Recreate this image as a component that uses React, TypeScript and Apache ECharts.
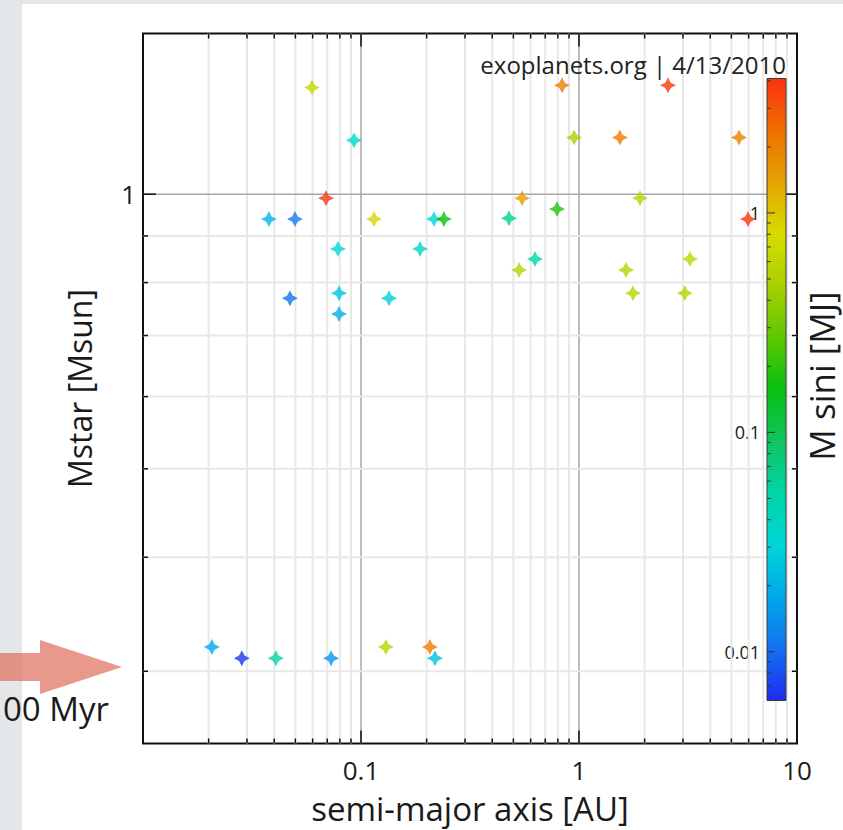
import React, { useEffect, useRef } from 'react';
import * as echarts from 'echarts';

// Planets: semi-major axis [AU], host star mass [Msun], planet M sini [MJ]
const semiMajorAxis = [
  0.0596, 0.0929, 0.836, 2.56, 0.949, 1.54, 5.42, 0.0691, 0.0378, 0.0498,
  0.1147, 0.216, 0.24, 0.477, 0.548, 0.793, 1.905, 5.96, 0.0784, 0.1865,
  0.628, 0.531, 1.643, 3.23, 0.0472, 0.0793, 0.0793, 0.1344, 1.769, 3.06,
  0.0207, 0.0284, 0.0407, 0.0729, 0.13, 0.207, 0.2184,
];
const starMass = [
  1.309, 1.146, 1.316, 1.316, 1.154, 1.154, 1.154, 0.99, 0.939, 0.939,
  0.939, 0.939, 0.939, 0.941, 0.99, 0.963, 0.99, 0.939, 0.871, 0.871,
  0.849, 0.826, 0.826, 0.849, 0.769, 0.779, 0.739, 0.769, 0.779, 0.779,
  0.319, 0.31, 0.31, 0.31, 0.319, 0.319, 0.31,
];
const planetMass = [
  0.66, 0.035, 2.1, 3.9, 0.48, 2.1, 2.0, 3.9, 0.021, 0.0115,
  0.85, 0.031, 0.157, 0.063, 1.44, 0.18, 0.52, 4.0, 0.033, 0.04,
  0.051, 0.54, 0.56, 0.62, 0.0108, 0.024, 0.02, 0.029, 0.55, 0.52,
  0.018, 0.0065, 0.055, 0.0145, 0.55, 2.1, 0.024,
];

// Axis ranges and ticks
const xRange = [0.01, 10];
const yRange = [0.25, 1.5];
const massRange = [0.006, 4.1];
const xLabelValues = [0.1, 1, 10];
const yLabelValues = [1];
const massLabelValues = [0.01, 0.1, 1];
const xMajorGrid = [0.1, 1];
const xMinorGrid = [
  0.02, 0.03, 0.04, 0.05, 0.06, 0.07, 0.08, 0.09,
  0.2, 0.3, 0.4, 0.5, 0.6, 0.7, 0.8, 0.9,
  2, 3, 4, 5, 6, 7, 8, 9,
];
const yMajorGrid = [1];
const yMinorGrid = [0.3, 0.4, 0.5, 0.6, 0.7, 0.8, 0.9];
const massMajorTicks = [0.01, 0.1, 1];
const massMinorTicks = [
  0.007, 0.008, 0.009, 0.02, 0.03, 0.04, 0.05, 0.06, 0.07, 0.08, 0.09,
  0.2, 0.3, 0.4, 0.5, 0.6, 0.7, 0.8, 0.9, 2, 3, 4,
];

// Colour scale for log10(M sini), low to high
const massColors = [
  '#1c2cf0', '#1470f0', '#00a8ea', '#00d6d8', '#00d4a8', '#10c460', '#08c010',
  '#5cc800', '#a8d000', '#d8dc00', '#e4a400', '#ee7000', '#ff3010',
];

const FONT = 'Open Sans';
const TEXT = '#1a1a1a';

const matches = (v: number, list: number[]) => list.some((t) => Math.abs(v / t - 1) < 1e-6);
const fmt = (v: number) => String(Number(v.toPrecision(6)));

const starSymbol =
  'path://M0,-10L3.4,-3.4L10,0L3.4,3.4L0,10L-3.4,3.4L-10,0L-3.4,-3.4Z';

function buildOption(): any {
  const scatterData = semiMajorAxis.map((a, i) => [a, starMass[i], Math.log10(planetMass[i])]);
  const xGridData = [
    ...xMinorGrid.map((v) => [v, 1, 0]),
    ...xMajorGrid.map((v) => [v, 1, 1]),
  ];
  const yGridData = [
    ...yMinorGrid.map((v) => [1, v, 0]),
    ...yMajorGrid.map((v) => [1, v, 1]),
  ];
  const massTickData = [
    ...massMinorTicks.map((v) => [0.5, v, 0]),
    ...massMajorTicks.map((v) => [0.5, v, 1]),
  ];

  return {
    animation: false,
    backgroundColor: '#ffffff',
    grid: [
      {
        left: 143, top: 33.5, width: 654, height: 710,
        show: true, borderColor: '#111', borderWidth: 2, backgroundColor: 'transparent',
        outerBoundsMode: 'none',
      },
      { left: 767, top: 78.5, width: 19, height: 622, outerBoundsMode: 'none' },
    ],
    xAxis: [
      {
        type: 'log', gridIndex: 0, min: xRange[0], max: xRange[1],
        axisLine: { show: false }, axisTick: { show: false }, splitLine: { show: false },
        axisLabel: {
          fontFamily: FONT, fontSize: 26, color: TEXT, margin: 13,
          formatter: (v: number) => (matches(v, xLabelValues) ? fmt(v) : ''),
        },
        name: 'semi-major axis [AU]', nameLocation: 'middle', nameGap: 48,
        nameTextStyle: { fontFamily: FONT, fontSize: 33, color: TEXT },
      },
      { type: 'value', gridIndex: 1, min: 0, max: 1, show: false },
    ],
    yAxis: [
      {
        type: 'log', gridIndex: 0, min: yRange[0], max: yRange[1],
        axisLine: { show: false }, axisTick: { show: false }, splitLine: { show: false },
        axisLabel: {
          fontFamily: FONT, fontSize: 26, color: TEXT, margin: 7,
          formatter: (v: number) => (matches(v, yLabelValues) ? fmt(v) : ''),
        },
        name: 'Mstar [Msun]', nameLocation: 'middle', nameRotate: 90, nameGap: 48,
        nameTextStyle: { fontFamily: FONT, fontSize: 32, color: TEXT },
      },
      {
        type: 'log', gridIndex: 1, min: massRange[0], max: massRange[1],
        axisLine: { show: false }, axisTick: { show: false }, splitLine: { show: false },
        axisLabel: {
          fontFamily: FONT, fontSize: 18, color: TEXT, margin: 7, padding: [8, 0, 0, 0],
          formatter: (v: number) => (matches(v, massLabelValues) ? fmt(v) : ''),
        },
      },
    ],
    visualMap: {
      type: 'continuous', show: false, seriesIndex: 4, dimension: 2,
      min: Math.log10(massRange[0]), max: Math.log10(massRange[1]),
      inRange: { color: massColors },
    },
    series: [
      {
        // vertical grid lines and top/bottom ticks
        type: 'custom', xAxisIndex: 0, yAxisIndex: 0, z: 1, silent: true,
        data: xGridData,
        renderItem: (params: any, api: any) => {
          const cs = params.coordSys;
          const x = api.coord([api.value(0), 1])[0];
          const major = api.value(2) === 1;
          const top = cs.y;
          const bottom = cs.y + cs.height;
          const t = major ? 13 : 5;
          return {
            type: 'group',
            children: [
              { type: 'line', shape: { x1: x, y1: top, x2: x, y2: bottom },
                style: { stroke: major ? '#a6a6a6' : '#e8e8e8', lineWidth: major ? 1.5 : 2 } },
              { type: 'line', shape: { x1: x, y1: bottom, x2: x, y2: bottom - t },
                style: { stroke: '#111', lineWidth: 1.5 } },
              { type: 'line', shape: { x1: x, y1: top, x2: x, y2: top + t },
                style: { stroke: '#111', lineWidth: 1.5 } },
            ],
          };
        },
      },
      {
        // horizontal grid lines and left/right ticks
        type: 'custom', xAxisIndex: 0, yAxisIndex: 0, z: 1, silent: true,
        data: yGridData,
        renderItem: (params: any, api: any) => {
          const cs = params.coordSys;
          const y = api.coord([1, api.value(1)])[1];
          const major = api.value(2) === 1;
          const left = cs.x;
          const right = cs.x + cs.width;
          const t = major ? 13 : 5;
          return {
            type: 'group',
            children: [
              { type: 'line', shape: { x1: left, y1: y, x2: right, y2: y },
                style: { stroke: major ? '#a6a6a6' : '#e8e8e8', lineWidth: major ? 1.5 : 2 } },
              { type: 'line', shape: { x1: left, y1: y, x2: left + t, y2: y },
                style: { stroke: '#111', lineWidth: 1.5 } },
              { type: 'line', shape: { x1: right, y1: y, x2: right - t, y2: y },
                style: { stroke: '#111', lineWidth: 1.5 } },
            ],
          };
        },
      },
      {
        // colour bar
        type: 'custom', xAxisIndex: 1, yAxisIndex: 1, z: 3, silent: true,
        data: [[0.5, 1]],
        renderItem: (params: any) => {
          const cs = params.coordSys;
          return {
            type: 'rect',
            shape: { x: cs.x, y: cs.y, width: cs.width, height: cs.height },
            style: {
              fill: {
                type: 'linear', x: 0, y: 1, x2: 0, y2: 0,
                colorStops: massColors.map((c, i) => ({ offset: i / (massColors.length - 1), color: c })),
              },
              stroke: '#3a3a3a', lineWidth: 1,
            },
          };
        },
      },
      {
        // colour bar ticks
        type: 'custom', xAxisIndex: 1, yAxisIndex: 1, z: 4, silent: true,
        data: massTickData,
        renderItem: (params: any, api: any) => {
          const cs = params.coordSys;
          const y = api.coord([0.5, api.value(1)])[1];
          const major = api.value(2) === 1;
          return {
            type: 'line',
            shape: { x1: cs.x, y1: y, x2: cs.x + (major ? 8 : 4), y2: y },
            style: { stroke: '#333', lineWidth: 1 },
          };
        },
      },
      {
        type: 'scatter', xAxisIndex: 0, yAxisIndex: 0, z: 5,
        symbol: starSymbol, symbolSize: 16,
        data: scatterData,
      },
    ],
    graphic: [
      { type: 'rect', z: -10, silent: true, shape: { x: 0, y: 0, width: 22, height: 830 }, style: { fill: '#e4e7ea' } },
      { type: 'rect', z: -10, silent: true, shape: { x: 0, y: 0, width: 843, height: 4 }, style: { fill: '#e4e7ea' } },
      {
        type: 'polygon', z: 10, silent: true,
        shape: { points: [[0, 653], [40, 653], [40, 640], [122, 667], [40, 694], [40, 681], [0, 681]] },
        style: { fill: 'rgba(222,110,90,0.7)' },
      },
      {
        type: 'text', z: 10, silent: true, x: 109, y: 708,
        style: { text: '00 Myr', fontFamily: FONT, fontSize: 33, fill: TEXT,
          align: 'right', verticalAlign: 'middle', textAlign: 'right', textVerticalAlign: 'middle' },
      },
      {
        type: 'text', z: 10, silent: true, x: 786, y: 64,
        style: { text: 'exoplanets.org | 4/13/2010', fontFamily: FONT, fontSize: 24, fill: '#222',
          align: 'right', verticalAlign: 'middle', textAlign: 'right', textVerticalAlign: 'middle' },
      },
      {
        type: 'text', z: 10, silent: true, x: 821, y: 376, rotation: Math.PI / 2,
        style: { text: 'M sini [MJ]', fontFamily: FONT, fontSize: 35, fill: TEXT,
          align: 'center', verticalAlign: 'middle', textAlign: 'center', textVerticalAlign: 'middle' },
      },
    ],
  };
}

export default function App() {
  const ref = useRef<HTMLDivElement>(null);
  useEffect(() => {
    if (!ref.current) return;
    const chart = echarts.init(ref.current, null, { renderer: 'svg' });
    chart.setOption(buildOption());
    return () => chart.dispose();
  }, []);
  return (
    <div
      ref={ref}
      style={{ position: 'fixed', left: 0, top: 0, width: 843, height: 830 }}
    />
  );
}
